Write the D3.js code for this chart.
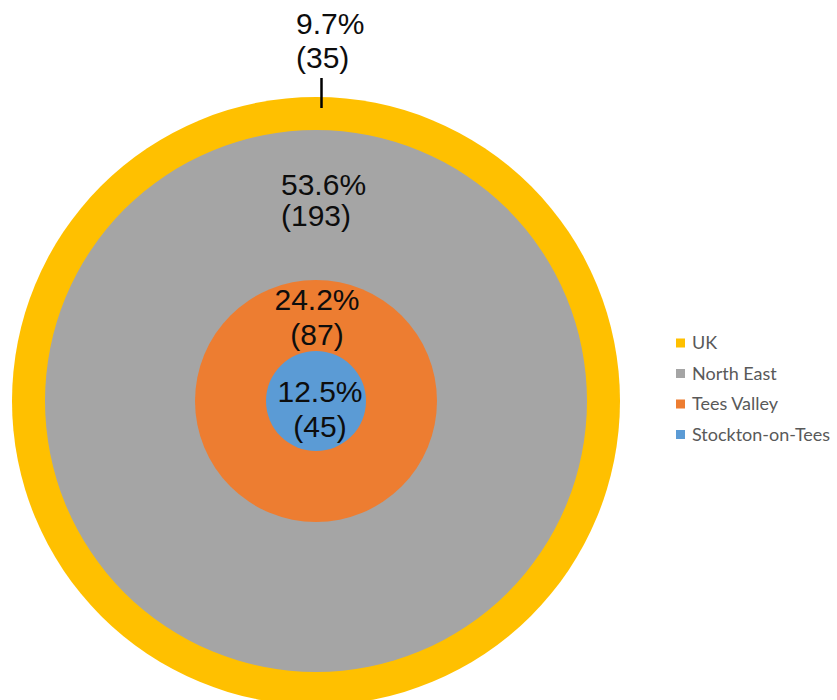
<!DOCTYPE html>
<html>
<head>
<meta charset="utf-8">
<script src="https://cdn.jsdelivr.net/npm/d3@7"></script>
<style>
  html, body { margin: 0; padding: 0; background: #fff; }
  svg { display: block; }
</style>
</head>
<body>
<svg id="chart" width="837" height="700"></svg>
<script>
// ---- Data ----
const categories = ["UK", "North East", "Tees Valley", "Stockton-on-Tees"];
const counts = [35, 193, 87, 45];
const percents = [9.7, 53.6, 24.2, 12.5];

// ---- Styles / layout ----
const colors = ["#FFC000", "#A5A5A5", "#ED7D31", "#5B9BD5"];
const cx = 316, cy = 401;

// cumulative counts from innermost (Stockton) outwards
const order = [3, 2, 1, 0];
let acc = 0;
const cumulative = new Array(categories.length);
order.forEach(i => { acc += counts[i]; cumulative[i] = acc; });

// radius scale: cumulative count -> ring radius (as drawn in the original)
const rScale = d3.scaleLinear()
  .domain([0, cumulative[3], cumulative[2], cumulative[1], cumulative[0]])
  .range([0, 50, 121, 271, 304]);

const color = d3.scaleOrdinal().domain(categories).range(colors);

const svg = d3.select("#chart");

// circles, outermost first
const rings = categories.map((c, i) => ({ cat: c, i, cum: cumulative[i] }))
  .sort((a, b) => b.cum - a.cum);

svg.append("g").selectAll("circle")
  .data(rings)
  .join("circle")
  .attr("cx", cx)
  .attr("cy", cy)
  .attr("r", d => rScale(d.cum))
  .attr("fill", d => color(d.cat));

// leader tick for UK label
svg.append("line")
  .attr("x1", 321.5).attr("x2", 321.5)
  .attr("y1", 78).attr("y2", 108)
  .attr("stroke", "#000").attr("stroke-width", 2.5);

// data labels (layout per category)
const labelLayout = [
  { x: 296, y1: 34, y2: 68, anchor: "start" },   // UK
  { x: 281, y1: 195, y2: 226, anchor: "start" }, // North East
  { x: 317, y1: 310, y2: 345, anchor: "middle" },// Tees Valley
  { x: 320, y1: 402, y2: 437, anchor: "middle" } // Stockton
];

const labels = svg.append("g")
  .attr("font-family", "'Liberation Sans', Arial, sans-serif")
  .attr("font-size", 30)
  .attr("fill", "#0d0d0d");

categories.forEach((c, i) => {
  const L = labelLayout[i];
  labels.append("text")
    .attr("x", L.x).attr("y", L.y1)
    .attr("text-anchor", L.anchor)
    .text(d3.format(".1f")(percents[i]) + "%");
  labels.append("text")
    .attr("x", L.x).attr("y", L.y2)
    .attr("text-anchor", L.anchor)
    .text("(" + counts[i] + ")");
});

// legend
const legendY = d3.scalePoint().domain(categories).range([343, 434.5]);
const legend = svg.append("g")
  .attr("font-family", "Lato, 'Open Sans', sans-serif")
  .attr("font-size", 18)
  .attr("fill", "#595959");

const items = legend.selectAll("g").data(categories).join("g")
  .attr("transform", d => `translate(676,${legendY(d)})`);
items.append("rect")
  .attr("x", 0).attr("y", -4.5)
  .attr("width", 9).attr("height", 9)
  .attr("fill", d => color(d));
items.append("text")
  .attr("x", 16).attr("y", 0)
  .attr("dy", "0.35em")
  .text(d => d);
</script>
</body>
</html>
